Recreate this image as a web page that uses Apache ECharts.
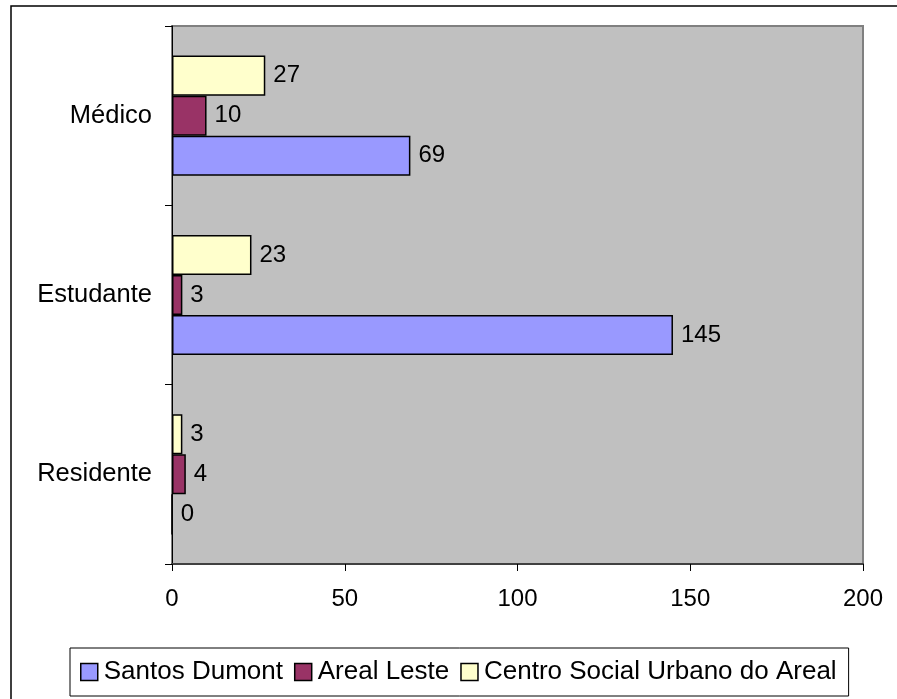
<!DOCTYPE html>
<html>
<head>
<meta charset="utf-8">
<script src="https://cdn.jsdelivr.net/npm/echarts@6/dist/echarts.min.js"></script>
<style>
    html, body { margin: 0; padding: 0; background: #fff; }
    #container { width: 897px; height: 699px; }
</style>
</head>
<body>
<div id="container"></div>
<script type="text/javascript">
    // categories bottom -> top (ECharts category y axis starts at the bottom)
    var categories = ['Residente', 'Estudante', 'Médico'];
    var santosDumont = [0, 145, 69];
    var arealLeste = [4, 3, 10];
    var centroSocial = [3, 23, 27];
    var xTicks = [0, 50, 100, 150, 200];
    var legendNames = ['Santos Dumont', 'Areal Leste', 'Centro Social Urbano do Areal'];

    var dom = document.getElementById("container");
    var myChart = echarts.init(dom);
    var fontFamily = '"Liberation Sans", Arial, sans-serif';

    var labelOption = {
        show: true,
        position: 'right',
        distance: 8,
        color: '#000',
        fontSize: 24,
        fontFamily: fontFamily
    };

    function makeSeries(name, color, data) {
        return {
            name: name,
            type: 'bar',
            barGap: 0,
            barCategoryGap: '33%',
            itemStyle: {color: color, borderColor: '#000', borderWidth: 1.5},
            label: labelOption,
            data: data
        };
    }

    var option = {
        animation: false,
        backgroundColor: '#fff',
        textStyle: {fontFamily: fontFamily},
        graphic: [{
            type: 'rect',
            shape: {x: 11, y: 6, width: 900, height: 720},
            style: {fill: 'none', stroke: '#000', lineWidth: 1.5},
            z: -1
        }],
        legend: {
            data: legendNames,
            left: 70,
            top: 648,
            padding: [11, 12, 11, 10],
            itemGap: 11,
            itemWidth: 17,
            itemHeight: 17,
            icon: 'rect',
            borderColor: '#000',
            borderWidth: 1,
            itemStyle: {borderColor: '#000', borderWidth: 1.5},
            textStyle: {fontSize: 26, color: '#000', fontFamily: fontFamily, padding: [0, 0, 0, 1]}
        },
        grid: {
            left: 172,
            top: 26,
            width: 691,
            height: 538,
            show: true,
            backgroundColor: '#C0C0C0',
            borderColor: '#808080',
            borderWidth: 2
        },
        xAxis: {
            type: 'value',
            min: xTicks[0],
            max: xTicks[xTicks.length - 1],
            interval: 50,
            splitLine: {show: false},
            axisLine: {show: true, lineStyle: {color: '#404040', width: 2}},
            axisTick: {show: true, length: 7, lineStyle: {color: '#000'}},
            axisLabel: {fontSize: 24, color: '#000', margin: 23, fontFamily: fontFamily}
        },
        yAxis: {
            type: 'category',
            data: categories,
            axisLine: {show: true, onZero: false, lineStyle: {color: '#000', width: 1}},
            axisTick: {show: true, length: 7, lineStyle: {color: '#000'}},
            axisLabel: {fontSize: 25.5, color: '#000', margin: 20, fontFamily: fontFamily}
        },
        // top-to-bottom inside each group: Centro Social, Areal Leste, Santos Dumont
        series: [
            makeSeries(legendNames[2], '#FFFFCC', centroSocial),
            makeSeries(legendNames[1], '#993366', arealLeste),
            makeSeries(legendNames[0], '#9999FF', santosDumont)
        ]
    };
    myChart.setOption(option, true);
</script>
</body>
</html>
